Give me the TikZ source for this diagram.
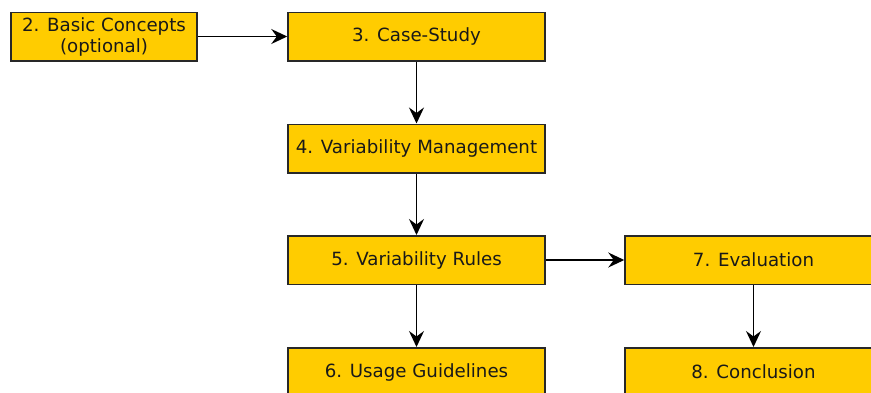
\documentclass[tikz,border=0pt]{standalone}
\usepackage{fontspec}
\setmainfont{DejaVu Sans}
\usetikzlibrary{arrows.meta}
\definecolor{boxfill}{RGB}{255,204,0}
\definecolor{boxline}{RGB}{40,40,40}
\tikzset{
  stepbox/.style={draw=boxline, fill=boxfill, line width=1.5pt, inner sep=0pt,
    minimum width=257pt, minimum height=48.5pt, align=center,
    font=\fontsize{18.2}{21}\selectfont, text=black!90},
  conn/.style={line width=1.5pt, draw=black, -{Stealth[length=16pt,width=15pt,inset=5.5pt]}}
}
\begin{document}
\begin{tikzpicture}[x=1pt,y=-1pt]
\useasboundingbox (0,0) rectangle (871,392);
\node[stepbox, minimum width=186pt] (n2) at (104,36.5) {2. Basic Concepts\\(optional)};
\node[stepbox] (n3) at (416.5,36.75) {3. Case-Study};
\node[stepbox] (n4) at (416.5,148.5) {4. Variability Management};
\node[stepbox] (n5) at (416.5,260) {5. Variability Rules};
\node[stepbox] (n6) at (416.5,372) {6. Usage Guidelines};
\node[stepbox] (n7) at (753.5,260) {7. Evaluation};
\node[stepbox] (n8) at (753.5,372) {8. Conclusion};
\draw[conn] (n2.east) -- (n3.west |- n2.east);
\draw[conn] (n3) -- (n4);
\draw[conn] (n4) -- (n5);
\draw[conn] (n5) -- (n6);
\draw[conn] (n5) -- (n7);
\draw[conn] (n7) -- (n8);
\end{tikzpicture}
\end{document}
